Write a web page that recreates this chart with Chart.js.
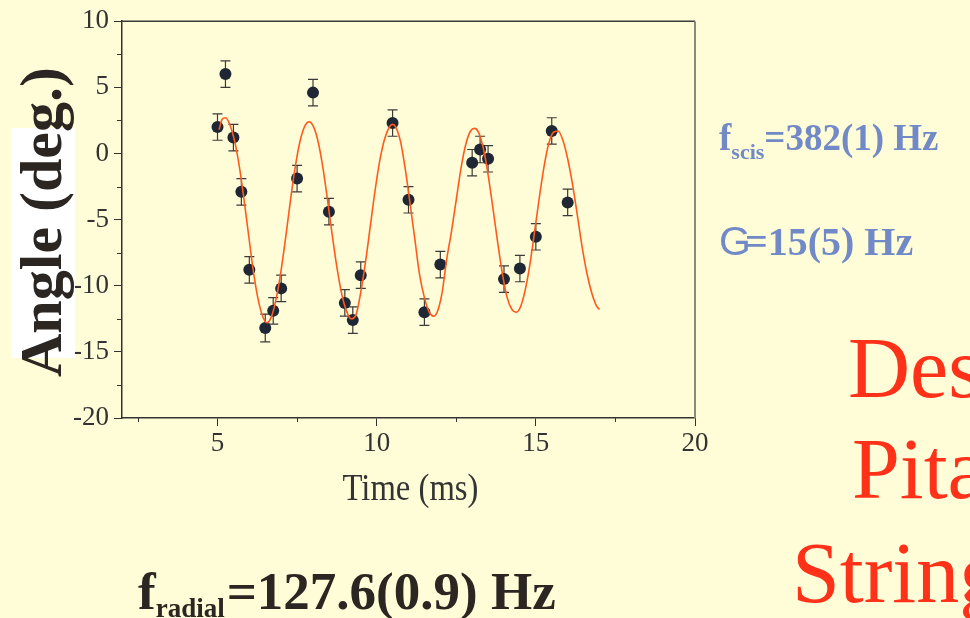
<!DOCTYPE html>
<html><head><meta charset="utf-8">
<script src="https://cdn.jsdelivr.net/npm/chart.js@4/dist/chart.umd.min.js"></script>
<style>html,body{margin:0;padding:0;background:#fffdd7;}canvas{display:block}</style>
</head><body>
<canvas id="c" width="970" height="618"></canvas>
<script>
// ---- data ----
const timeMs   = [5,5.25,5.5,5.75,6,6.5,6.75,7,7.5,8,8.5,9,9.25,9.5,10.5,11,11.5,12,13,13.25,13.5,14,14.5,15,15.5,16];
const angleDeg = [2.0,6.0,1.2,-2.9,-8.8,-13.2,-11.9,-10.2,-1.9,4.6,-4.4,-11.3,-12.6,-9.2,2.3,-3.5,-12.0,-8.4,-0.7,0.3,-0.4,-9.5,-8.7,-6.3,1.7,-3.7];
const angleErr = [1.0,1.0,1.0,1.0,1.0,1.05,1.0,1.0,1.0,1.0,1.0,1.0,1.0,1.0,1.0,1.0,1.0,1.0,1.0,1.0,1.0,1.0,1.0,1.0,1.0,1.0];
const fitTime  = [5.05,5.15,5.25,5.4,5.55,5.7,5.85,6.0,6.15,6.3,6.45,6.55,6.7,6.85,7.0,7.15,7.3,7.45,7.6,7.75,7.88,8.0,8.15,8.3,8.45,8.6,8.75,8.9,9.05,9.2,9.35,9.5,9.65,9.8,9.95,10.1,10.25,10.4,10.5,10.6,10.75,10.9,11.05,11.2,11.35,11.5,11.65,11.78,11.9,12.05,12.2,12.35,12.5,12.65,12.8,12.95,13.08,13.2,13.35,13.5,13.65,13.8,13.95,14.1,14.25,14.38,14.5,14.65,14.8,14.95,15.1,15.25,15.4,15.55,15.7,15.85,16.0,16.15,16.3,16.45,16.6,16.75,16.9,17.0];
const fitAngle = [1.8,2.6,2.7,2.1,0.8,-1.2,-3.8,-6.6,-9.3,-11.3,-12.5,-12.8,-12.3,-10.9,-8.8,-6.2,-3.4,-0.9,1.0,2.1,2.4,2.1,1.0,-0.9,-3.4,-6.1,-8.6,-10.6,-11.9,-12.5,-12.2,-10.5,-8.2,-5.5,-2.8,-0.5,1.1,2.0,2.2,2.0,0.9,-1.2,-3.8,-6.5,-9.2,-10.9,-12.0,-12.3,-12.0,-10.6,-8.0,-5.9,-3.5,-1.1,0.7,1.7,1.9,1.6,0.4,-1.6,-4.1,-6.7,-9.1,-10.9,-11.8,-12.0,-11.7,-10.5,-8.6,-6.1,-3.5,-1.1,0.7,1.6,1.7,1.0,-0.4,-2.3,-4.6,-7.0,-9.0,-10.5,-11.5,-11.8];
const xTickValues = [5,10,15,20];
const xMinorTicks = [2.5,7.5,12.5,17.5];
const yTickValues = [-20,-15,-10,-5,0,5,10];
const yMinorTicks = [-17.5,-12.5,-7.5,-2.5,2.5,7.5];
const xTitle = 'Time (ms)';
const yTitle = 'Angle (deg.)';

// ---- styles ----
const BG = '#fffdd7';
const SERIF = '"Liberation Serif","Times New Roman",serif';
const DARK = '#2b2622';
const BLUE = '#7189c6';
const RED = '#ff3219';

function drawRuns(ctx, x, y, runs, color){
  ctx.fillStyle = color;
  ctx.textAlign = 'left';
  ctx.textBaseline = 'alphabetic';
  for (const r of runs){
    ctx.font = r.font;
    ctx.fillText(r.text, x, y + (r.dy || 0));
    x += ctx.measureText(r.text).width + (r.gap || 0);
  }
}

const decor = {
  id: 'decor',
  beforeDraw(chart){
    const ctx = chart.ctx;
    ctx.save();
    ctx.fillStyle = BG;
    ctx.fillRect(0, 0, chart.width, chart.height);
    ctx.restore();
  },
  beforeDatasetsDraw(chart){
    const ctx = chart.ctx, xs = chart.scales.x, ys = chart.scales.y;
    ctx.save();
    ctx.strokeStyle = '#3a3a3a';
    ctx.lineWidth = 1.2;
    for (let i = 0; i < timeMs.length; i++){
      const px = xs.getPixelForValue(timeMs[i]);
      const y1 = ys.getPixelForValue(angleDeg[i] - angleErr[i]);
      const y2 = ys.getPixelForValue(angleDeg[i] + angleErr[i]);
      ctx.beginPath();
      ctx.moveTo(px, y1); ctx.lineTo(px, y2);
      ctx.moveTo(px - 5, y1); ctx.lineTo(px + 5, y1);
      ctx.moveTo(px - 5, y2); ctx.lineTo(px + 5, y2);
      ctx.stroke();
    }
    ctx.restore();
  },
  afterDraw(chart){
    const ctx = chart.ctx, a = chart.chartArea, xs = chart.scales.x, ys = chart.scales.y;
    ctx.save();
    // frame top / right
    ctx.strokeStyle = '#3a3a3a'; ctx.lineWidth = 1.5;
    ctx.beginPath(); ctx.moveTo(a.left, a.top); ctx.lineTo(a.right, a.top); ctx.stroke();
    ctx.strokeStyle = '#8a8a80'; ctx.lineWidth = 2;
    ctx.beginPath(); ctx.moveTo(a.right, a.top); ctx.lineTo(a.right, a.bottom); ctx.stroke();
    // minor ticks
    ctx.strokeStyle = '#333'; ctx.lineWidth = 1;
    ctx.beginPath();
    for (const v of xMinorTicks){ const p = Math.round(xs.getPixelForValue(v)) + 0.5; ctx.moveTo(p, a.bottom); ctx.lineTo(p, a.bottom + 4); }
    for (const v of yMinorTicks){ const p = Math.round(ys.getPixelForValue(v)) + 0.5; ctx.moveTo(a.left, p); ctx.lineTo(a.left - 5, p); }
    ctx.stroke();
    // x title (condensed)
    ctx.save();
    ctx.translate((a.left + a.right) / 2 + 2, 500);
    ctx.scale(0.86, 1);
    ctx.font = '38px ' + SERIF; ctx.fillStyle = '#333'; ctx.textAlign = 'center'; ctx.textBaseline = 'alphabetic';
    ctx.fillText(xTitle, 0, 0);
    ctx.restore();
    // y title with white box
    ctx.fillStyle = '#ffffff';
    ctx.fillRect(11, 128, 64, 230);
    ctx.save();
    ctx.translate(61, 222);
    ctx.rotate(-Math.PI / 2);
    ctx.font = 'bold 60px ' + SERIF; ctx.fillStyle = DARK; ctx.textAlign = 'center'; ctx.textBaseline = 'alphabetic';
    ctx.fillText(yTitle, 0, 0);
    ctx.restore();
    // slide annotations
    drawRuns(ctx, 138, 609, [
      {text:'f', font:'bold 53px ' + SERIF},
      {text:'radial', font:'bold 27px ' + SERIF, dy:8, gap:2},
      {text:'=127.6(0.9) Hz', font:'bold 53px ' + SERIF}
    ], DARK);
    drawRuns(ctx, 719, 150, [
      {text:'f', font:'bold 37px ' + SERIF},
      {text:'scis', font:'bold 22px ' + SERIF, dy:9},
      {text:'=382(1) Hz', font:'bold 37px ' + SERIF}
    ], BLUE);
    drawRuns(ctx, 719, 255, [
      {text:'G', font:'41px "Liberation Sans",Arial,sans-serif', gap:-6},
      {text:'=15(5) Hz', font:'bold 40px ' + SERIF}
    ], BLUE);
    ctx.font = '86px ' + SERIF; ctx.fillStyle = RED; ctx.textAlign = 'left'; ctx.textBaseline = 'alphabetic';
    ctx.fillText('Des', 848, 397);
    ctx.fillText('Pita', 852, 498);
    ctx.fillText('String', 792, 602);
    ctx.restore();
  }
};

new Chart(document.getElementById('c'), {
  data: {
    datasets: [
      { type:'line', label:'fit', data: fitTime.map((t,i)=>({x:t, y:fitAngle[i]})),
        borderColor:'#ff5a1e', borderWidth:1.6, pointRadius:0, fill:false,
        cubicInterpolationMode:'monotone' },
      { type:'scatter', label:'data', data: timeMs.map((t,i)=>({x:t, y:angleDeg[i]})),
        backgroundColor:'#1e2733', borderColor:'#1e2733', pointRadius:6, pointBorderWidth:0 }
    ]
  },
  options: {
    responsive:false, animation:false, devicePixelRatio:1,
    layout:{ padding:{ left:0, top:19, right:275, bottom:0 } },
    plugins:{ legend:{display:false}, tooltip:{enabled:false}, title:{display:false} },
    scales:{
      x:{ type:'linear', position:'bottom', min:2, max:20,
        afterBuildTicks: s => { s.ticks = xTickValues.map(v=>({value:v})); },
        afterFit: s => { s.height = 200; },
        grid:{ drawOnChartArea:false, drawTicks:true, tickLength:8, tickColor:'#333', tickWidth:1 },
        border:{ display:true, color:'#333', width:1.5 },
        ticks:{ color:'#333', font:{ family:SERIF, size:27 }, padding:2, maxRotation:0, autoSkip:false },
        title:{ display:false }
      },
      y:{ type:'linear', position:'left', min:-20, max:10,
        afterBuildTicks: s => { s.ticks = yTickValues.map(v=>({value:v})); },
        afterFit: s => { s.width = 122; },
        grid:{ drawOnChartArea:false, drawTicks:true, tickLength:8, tickColor:'#333', tickWidth:1 },
        border:{ display:true, color:'#333', width:1.5 },
        ticks:{ color:'#333', font:{ family:SERIF, size:27 }, padding:5, autoSkip:false },
        title:{ display:false }
      }
    }
  },
  plugins:[decor]
});
</script>
</body></html>
